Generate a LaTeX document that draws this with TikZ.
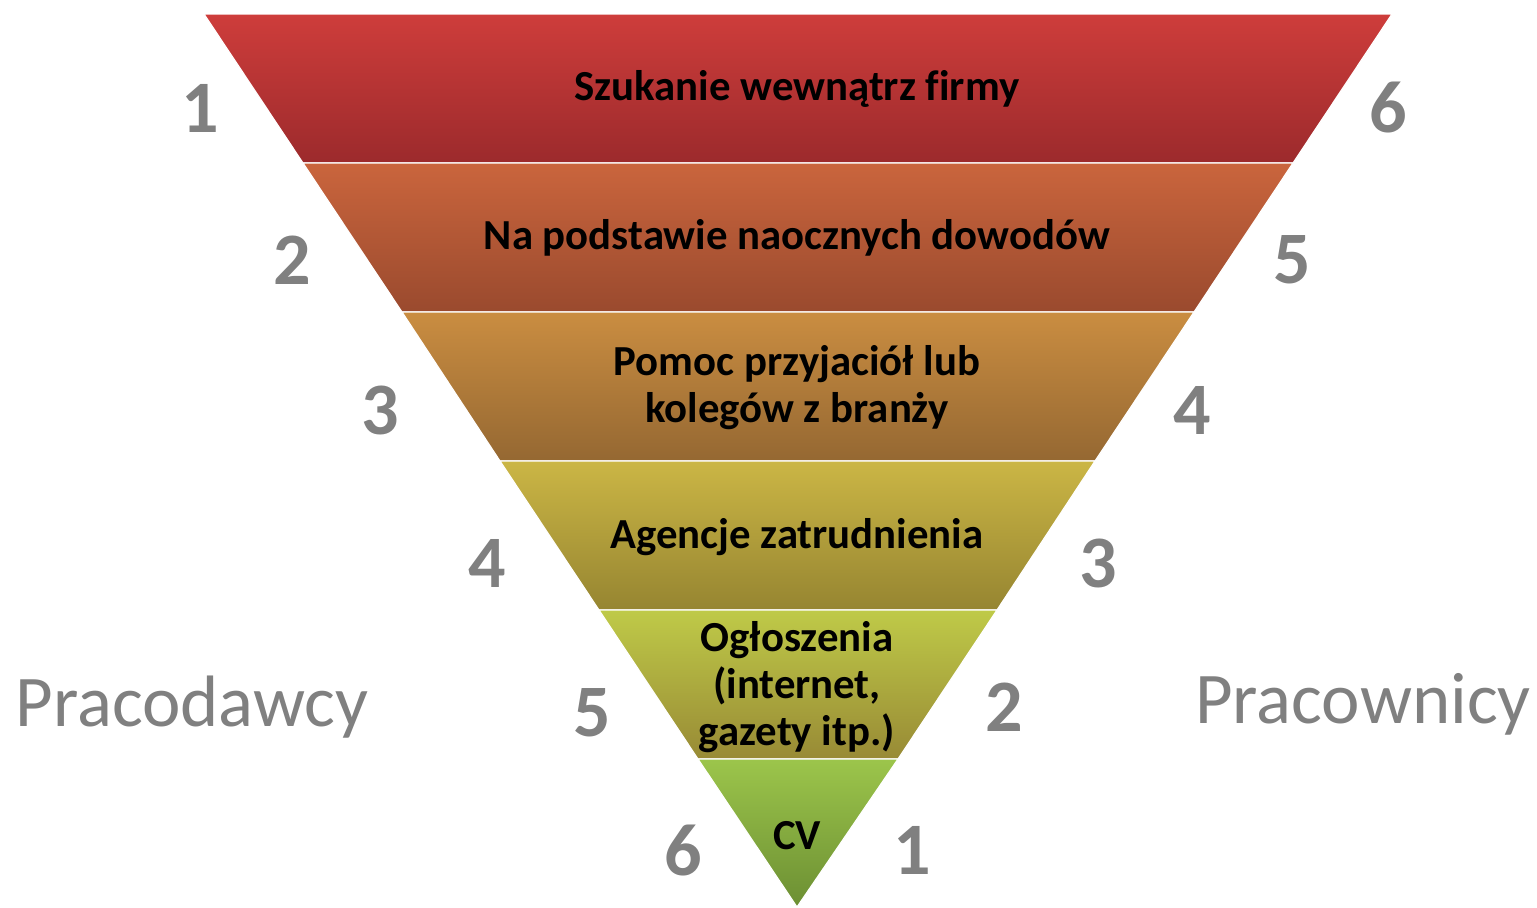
\documentclass[tikz,border=0pt]{standalone}
\usepackage{fontspec}
\setmainfont{Carlito}[Ligatures=NoCommon]
\usetikzlibrary{positioning,calc}
\definecolor{redtop}{HTML}{CE3D3B}
\definecolor{redbot}{HTML}{9C2A2C}
\definecolor{orangetop}{HTML}{CA653D}
\definecolor{orangebot}{HTML}{9A4A2E}
\definecolor{ambertop}{HTML}{CA8D41}
\definecolor{amberbot}{HTML}{956832}
\definecolor{goldtop}{HTML}{CBB645}
\definecolor{goldbot}{HTML}{968531}
\definecolor{limetop}{HTML}{BFCA48}
\definecolor{limebot}{HTML}{988A35}
\definecolor{greentop}{HTML}{9CC54B}
\definecolor{greenbot}{HTML}{6C8F33}
\definecolor{rankgray}{HTML}{808080}

\begin{document}
\begin{tikzpicture}[x=0.5pt, y=-0.5pt,
  band/.style={draw=white, line width=0.6pt},
  bandtext/.style={font=\bfseries\fontsize{21.4}{23.5}\selectfont, align=center, text=black},
  rank/.style={font=\bfseries\fontsize{37}{40}\selectfont, text=rankgray},
  side/.style={font=\fontsize{36.4}{40}\selectfont, text=rankgray}]
  \useasboundingbox (0,0) rectangle (1537,907);
  % funnel bands
  \shade[band, top color=redtop, bottom color=redbot] (204,14) -- (1392,14) -- (1293,163) -- (303,163) -- cycle;
  \shade[band, top color=orangetop, bottom color=orangebot] (303,163) -- (1293,163) -- (1194,312) -- (402,312) -- cycle;
  \shade[band, top color=ambertop, bottom color=amberbot] (402,312) -- (1194,312) -- (1095,461) -- (500,461) -- cycle;
  \shade[band, top color=goldtop, bottom color=goldbot] (500,461) -- (1095,461) -- (997,610) -- (599,610) -- cycle;
  \shade[band, top color=limetop, bottom color=limebot] (599,610) -- (997,610) -- (898,759) -- (698,759) -- cycle;
  \shade[band, top color=greentop, bottom color=greenbot] (698,759) -- (898,759) -- (797,907) -- cycle;
  % band labels
  \node[bandtext] (b1) at (797,89) {Szukanie wewnątrz firmy};
  \node[bandtext] (b2) at (797,238) {Na podstawie naocznych dowodów};
  \node[bandtext] (b3) at (797,388) {Pomoc przyjaciół lub\\kolegów z branży};
  \node[bandtext] (b4) at (797,537) {Agencje zatrudnienia};
  \node[bandtext] (b5) at (797,687) {Ogłoszenia\\(internet,\\gazety itp.)};
  \node[bandtext] (b6) at (797,836) {CV};
  % employer ranks
  \node[rank] (l1) at (200,108) {1};
  \node[rank] (l2) at (292,260) {2};
  \node[rank] (l3) at (380,410) {3};
  \node[rank] (l4) at (487,563) {4};
  \node[rank] (l5) at (592,713) {5};
  \node[rank] (l6) at (683,850) {6};
  % employee ranks
  \node[rank] (r6) at (1388,108) {6};
  \node[rank] (r5) at (1292,260) {5};
  \node[rank] (r4) at (1192,410) {4};
  \node[rank] (r3) at (1098,563) {3};
  \node[rank] (r2) at (1004,707) {2};
  \node[rank] (r1) at (912,850) {1};
  % sides
  \node[side] (employers) at (192,707) {Pracodawcy};
  \node[side] (employees) at (1363,704) {Pracownicy};
\end{tikzpicture}
\end{document}
